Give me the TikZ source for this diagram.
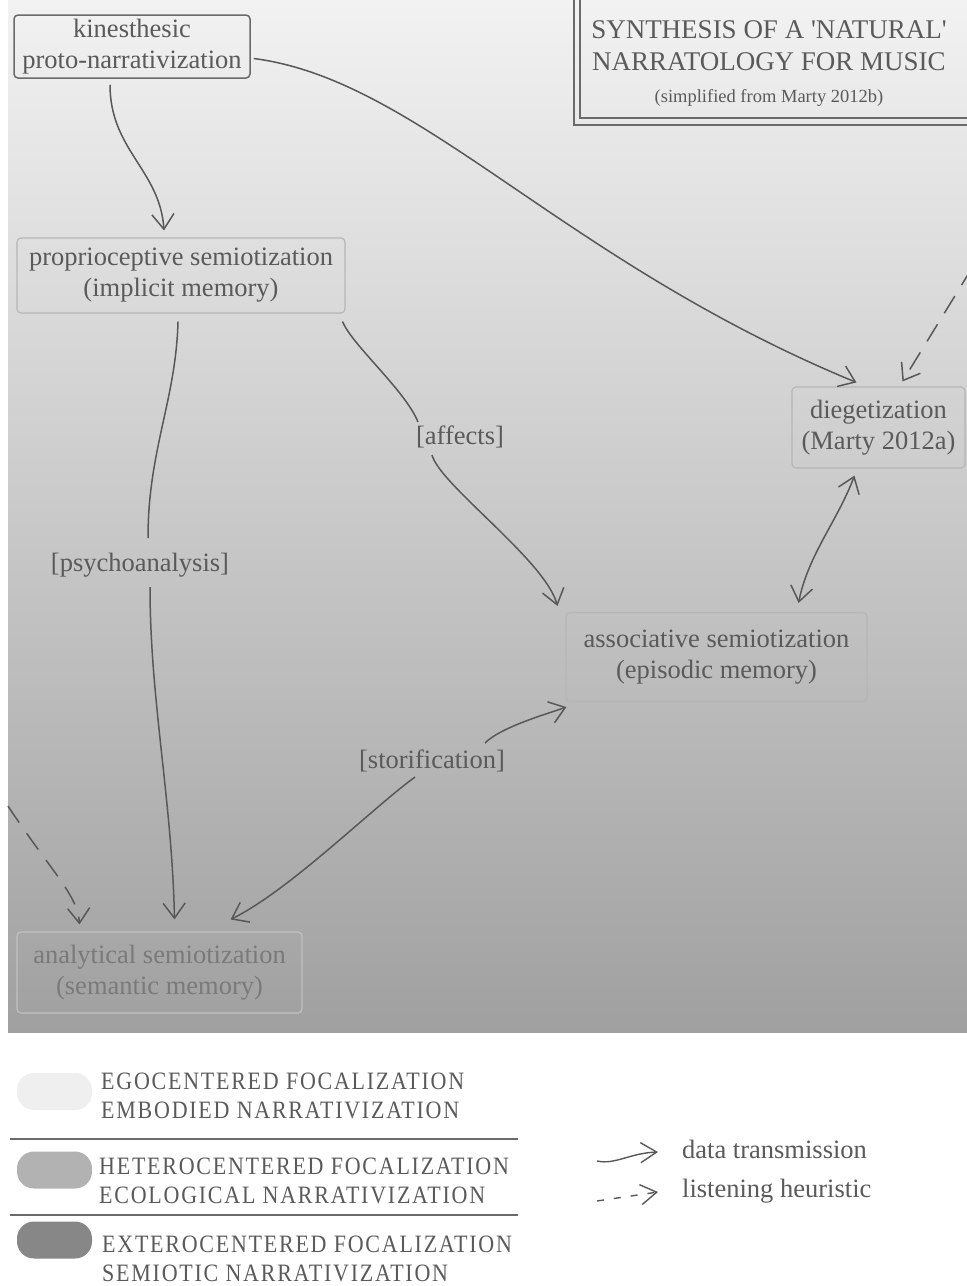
\documentclass[tikz,border=0pt]{standalone}
\usepackage{fontspec}
\setmainfont{Liberation Serif}
\newfontfamily\capsfont[LetterSpace=7, FakeStretch=0.88]{Liberation Serif}
\newfontfamily\titlefont{Liberation Serif}
\usetikzlibrary{arrows.meta,calc}
\definecolor{ink}{HTML}{5A5A5A}
\definecolor{lightink}{HTML}{7A7A7A}
\definecolor{edgecol}{HTML}{585858}
\definecolor{boxdark}{HTML}{6A6A6A}
\definecolor{boxlight}{HTML}{B6B6B6}
\definecolor{bgtop}{HTML}{F2F2F2}
\definecolor{bgmid}{HTML}{C9C9C9}
\definecolor{bgbot}{HTML}{A0A0A0}
\definecolor{legA}{HTML}{EFEFEF}
\definecolor{legB}{HTML}{B2B2B2}
\definecolor{legC}{HTML}{878787}
\definecolor{rulecol}{HTML}{6A6A6A}
\tikzset{
  nodetext/.style={font=\fontsize{26.5}{31}\selectfont, text=ink, align=center},
  box/.style={nodetext, draw=boxlight, line width=1.1pt, rounded corners=4pt, inner sep=0pt},
  lbl/.style={nodetext, inner sep=2pt},
  edge/.style={draw=edgecol, line width=1.5pt, -{Straight Barb[length=15pt,width=22pt,line width=1.5pt]}},
  heur/.style={edge, dash pattern=on 20pt off 13pt},
  blob/.style={rounded corners=17pt, minimum width=75pt, minimum height=37pt, inner sep=0pt},
  legtext/.style={font=\capsfont\fontsize{25}{29}\selectfont, text=ink, align=left, anchor=west, inner sep=0pt},
  keytext/.style={nodetext, anchor=west, inner sep=0pt},
  keyarrow/.style={draw=edgecol, line width=1.4pt, -{Straight Barb[length=16pt,width=20pt,line width=1.4pt]}},
  legrule/.style={draw=rulecol, line width=2pt}
}
\begin{document}
\begin{tikzpicture}[x=1pt,y=-1pt]
\useasboundingbox (0,0) rectangle (967,1286);
\fill[white] (0,0) rectangle (967,1286);
\shade[top color=bgtop, middle color=bgmid, bottom color=bgbot] (8,0) rectangle (967,1032);

% title frame
\draw[boxdark, line width=1.4pt] (574,-2) -- (574,125) -- (970,125);
\draw[boxdark, line width=1.4pt] (580,-2) -- (580,118) -- (970,118);
\node[text=ink, align=center, anchor=north, inner sep=0pt, font=\titlefont\fontsize{27}{32}\selectfont] (title) at (769,20)
  {SYNTHESIS OF A 'NATURAL'\\
   NARRATOLOGY FOR MUSIC\\
   {\fontsize{18.5}{22}\selectfont (simplified from Marty 2012b)}};

% nodes
\node[box, draw=boxdark, line width=1.5pt, minimum width=236pt, minimum height=63pt] (kin) at (132,46.5)
  {kinesthesic\\proto-narrativization};
\node[box, minimum width=328pt, minimum height=75pt] (prop) at (181,275.5)
  {proprioceptive semiotization\\(implicit memory)};
\node[box, minimum width=173pt, minimum height=81pt] (dieg) at (878.5,427.5)
  {diegetization\\(Marty 2012a)};
\node[box, minimum width=301pt, minimum height=89pt] (assoc) at (716.5,657)
  {associative semiotization\\(episodic memory)};
\node[box, draw=boxlight!85!white, text=lightink, minimum width=285pt, minimum height=81pt] (ana) at (159.5,972.5)
  {analytical semiotization\\(semantic memory)};

% labels
\node[lbl] (psy) at (140,565) {[psychoanalysis]};
\node[lbl] (aff) at (460,437) {[affects]};
\node[lbl] (sto) at (432,761) {[storification]};

% connectors
\draw[edge] ($(kin.south)+(-22,6)$) .. controls (110,150) and (160,170) .. ($(prop.north)+(-17,-7)$);
\draw[edge] ($(kin.east)+(3,12)$) .. controls (420,80) and (560,260) .. ($(dieg.north west)+(65,-4)$);
\coordinate (cin) at (972,268);
\draw[heur] (cin) -- ($(dieg.north west)+(111,-5)$);
\draw[draw=edgecol, line width=1.5pt] ($(prop.south)+(-3,8)$) .. controls (176,400) and (148,450) .. ($(psy.center)+(8,-27)$);
\draw[edge] ($(psy.center)+(10,22)$) .. controls (150,700) and (172,800) .. ($(ana.north)+(15,-12)$);
\draw[draw=edgecol, line width=1.5pt] ($(prop.south east)+(-3,8)$) .. controls (352,345) and (405,390) .. ($(aff.center)+(-42,-15)$);
\draw[edge] ($(aff.center)+(-28,18)$) .. controls (440,485) and (545,560) .. ($(assoc.north west)+(-8,-6)$);
\draw[edge, {Straight Barb[length=15pt,width=22pt,line width=1.5pt]}-{Straight Barb[length=15pt,width=22pt,line width=1.5pt]}]
  ($(dieg.south west)+(63,7)$) .. controls (838,520) and (808,555) .. ($(assoc.north east)+(-69,-9)$);
\draw[edge] ($(sto.center)+(53,-18)$) .. controls (500,728) and (540,716) .. ($(assoc.south west)+(1,5)$);
\draw[edge] ($(sto.center)+(-17,16)$) .. controls (370,810) and (290,890) .. ($(ana.north east)+(-72,-12)$);
\coordinate (hin) at (8,806);
\draw[heur] (hin) .. controls (50,870) and (78,895) .. ($(ana.north west)+(63,-7)$);

% legend
\node[blob, fill=legA] (bA) at (54.5,1091.5) {};
\node[blob, fill=legB] (bB) at (54.5,1170) {};
\node[blob, fill=legC] (bC) at (54.5,1240) {};
\node[legtext] (tA) at (101,1096) {EGOCENTERED FOCALIZATION\\EMBODIED NARRATIVIZATION};
\node[legtext] (tB) at (99,1181) {HETEROCENTERED FOCALIZATION\\ECOLOGICAL NARRATIVIZATION};
\node[legtext] (tC) at (102,1259) {EXTEROCENTERED FOCALIZATION\\SEMIOTIC NARRATIVIZATION};
\draw[legrule] (10,1139) -- (518,1139);
\draw[legrule] (10,1215) -- (518,1215);

\coordinate (k1a) at (597,1161);
\coordinate (k1b) at (658,1152);
\coordinate (k2a) at (597,1201);
\coordinate (k2b) at (658,1192);
\draw[keyarrow] (k1a) .. controls (615,1165) and (630,1153) .. (k1b);
\draw[keyarrow, dash pattern=on 7pt off 10pt] (k2a) -- (k2b);
\node[keytext] (kt1) at (682,1149) {data transmission};
\node[keytext] (kt2) at (682,1191) {listening heuristic};
\end{tikzpicture}
\end{document}
